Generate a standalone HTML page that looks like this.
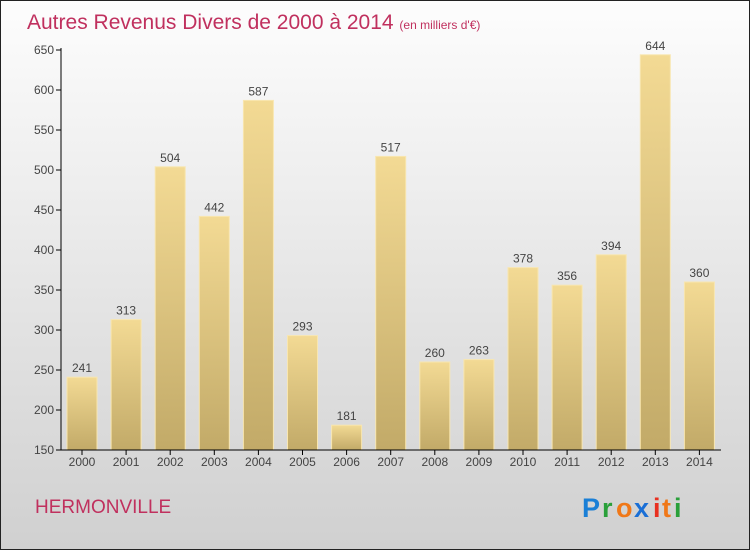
<!DOCTYPE html>
<html><head><meta charset="utf-8"><style>
body{margin:0;width:750px;height:550px;overflow:hidden;font-family:"Liberation Sans",sans-serif}
</style></head><body>
<svg width="750" height="550" xmlns="http://www.w3.org/2000/svg">
<defs>
<linearGradient id="bg" x1="0" y1="0" x2="0" y2="1"><stop offset="0" stop-color="#fdfdfd"/><stop offset="1" stop-color="#d0d0d0"/></linearGradient>
<linearGradient id="bar" x1="0" y1="0" x2="0" y2="1"><stop offset="0" stop-color="#f3da94"/><stop offset="1" stop-color="#c2aa68"/></linearGradient>
</defs>
<rect x="0.5" y="0.5" width="749" height="549" fill="url(#bg)" stroke="#222"/>
<text x="27" y="29" font-size="21" fill="#c0305e">Autres Revenus Divers de 2000 à 2014 <tspan font-size="12">(en milliers d'€)</tspan></text>
<g id="plot"></g>
<text x="35" y="513" font-size="19" fill="#c0305e">HERMONVILLE</text>
<g font-size="27" font-weight="bold">
<text x="582" y="517" fill="#1a7fd6">P</text><text x="602" y="517" fill="#2aa03a">r</text><text x="616" y="517" fill="#f07818">o</text><text x="634" y="517" fill="#1a6fd6">x</text><text x="653" y="517" fill="#e83020">i</text><text x="662" y="517" fill="#f07818">t</text><text x="674" y="517" fill="#2aa03a">i</text>
</g>
</svg>
<script>
const years=["2000","2001","2002","2003","2004","2005","2006","2007","2008","2009","2010","2011","2012","2013","2014"];
const values=[241,313,504,442,587,293,181,517,260,263,378,356,394,644,360];
const yTicks=[150,200,250,300,350,400,450,500,550,600,650];
const NS="http://www.w3.org/2000/svg";
const g=document.getElementById('plot');
const y=v=>450-(v-150)*0.8;
const x=i=>82+i*44.1;
function el(t,a,txt){const e=document.createElementNS(NS,t);for(const k in a)e.setAttribute(k,a[k]);if(txt!=null)e.textContent=txt;g.appendChild(e);return e;}
yTicks.forEach(t=>{
 const l=el('line',{x1:56,x2:61,y1:y(t),y2:y(t),stroke:'#000'});
 
 
 const tx=el('text',{x:54,y:y(t)+4,'font-size':12,fill:'#444','text-anchor':'end'},t);
 
 
});
values.forEach((v,i)=>{
 const b=el('rect',{x:x(i)-15,y:y(v),width:30,height:450-y(v),fill:'url(#bar)',stroke:'#f8e6b0','stroke-width':1});
 
 
 const lb=el('text',{x:x(i),y:y(v)-5,'font-size':12,fill:'#444','text-anchor':'middle'},v);
 
 
 const tk=el('line',{x1:x(i),x2:x(i),y1:450,y2:455,stroke:'#000'});
 
 
 const xl=el('text',{x:x(i),y:466,'font-size':12,fill:'#444','text-anchor':'middle'},years[i]);
 
 
});
const ya=el('line',{x1:61,x2:61,y1:48,y2:450,stroke:'#000'});


const xa=el('line',{x1:61,x2:721,y1:450,y2:450,stroke:'#000'});


</script>
</body></html>
